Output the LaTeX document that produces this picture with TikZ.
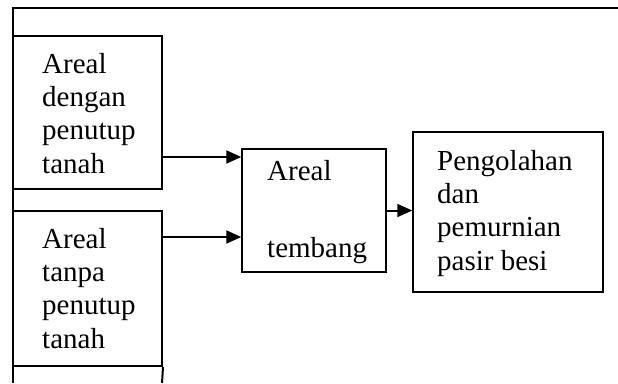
\documentclass[tikz,border=0pt]{standalone}
\usepackage{fontspec}
\setmainfont{Liberation Serif}
\usetikzlibrary{arrows.meta}

\begin{document}
\begin{tikzpicture}[x=1pt,y=-1pt,>={Triangle[length=15pt,width=13pt]},
  box/.style={draw,line width=2pt,inner sep=0pt},
  small box/.style={draw,line width=1.5pt,inner sep=0pt},
  label text/.style={anchor=base west,inner sep=0pt,align=left,font=\fontsize{29}{33.3}\selectfont}]
   \useasboundingbox (0,0) rectangle (618,383);
   \draw[line width=2pt] (618,7.5) -- (13,7.5) -- (13,383);
   \node[box,minimum width=149pt,minimum height=153pt] (cover) at (87.5,112) {};
   \node[box,minimum width=149pt,minimum height=155.5pt] (bare) at (87.5,288.25) {};
   \draw[line width=2pt] (bare.south east) -- (162,383);
   \node[small box,minimum width=144pt,minimum height=123pt] (area) at (314,210.5) {};
   \node[small box,minimum width=190pt,minimum height=160pt] (proc) at (508,212) {};
   % base anchor sits on the last line
   \node[label text] (cover t) at (42,173) {Areal\\dengan\\penutup\\tanah};
   \node[label text] (bare t) at (42,348) {Areal\\tanpa\\penutup\\tanah};
   \node[label text] (area t) at (267,257) {Areal\\[43pt]tembang};
   \node[label text] (proc t) at (437,270) {Pengolahan\\dan\\pemurnian\\pasir besi};
   \coordinate (u) at ([yshift=-45pt]cover.east);
   \coordinate (v) at ([yshift=51.25pt]bare.east);
    \path[->,line width=2pt]
    (u) edge (u -| area.west)
    (v) edge (v -| area.west)
    (area.east) edge (area.east -| proc.west);
\end{tikzpicture}
\end{document}
